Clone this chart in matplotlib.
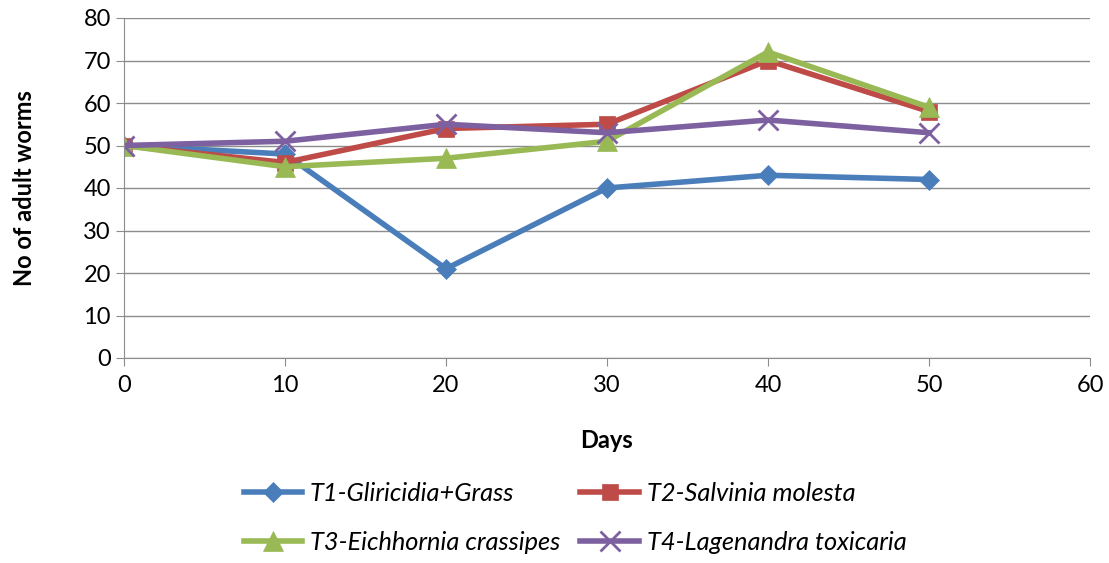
import matplotlib
matplotlib.use("Agg")
import matplotlib.pyplot as plt

days = [0, 10, 20, 30, 40, 50]
t1 = [50, 48, 21, 40, 43, 42]
t2 = [50, 46, 54, 55, 70, 58]
t3 = [50, 45, 47, 51, 72, 59]
t4 = [50, 51, 55, 53, 56, 53]
labels = ["T1-Gliricidia+Grass", "T2-Salvinia molesta",
          "T3-Eichhornia crassipes", "T4-Lagenandra toxicaria"]
colors = ["#4A7EBB", "#BE4B48", "#98B954", "#7D60A0"]
markers = ["D", "s", "^", "x"]
msizes = [10, 12, 14, 14]

plt.rcParams['font.family'] = ['Lato', 'DejaVu Sans']

fig = plt.figure(figsize=(11.09, 5.63), dpi=100)
ax = fig.add_axes([124/1109, 1-358/563, (1090-124)/1109, (358-18)/563])

handles = []
for ys, lab, c, m, ms in zip([t1, t2, t3, t4], labels, colors, markers, msizes):
    h, = ax.plot(days, ys, color=c, lw=4, marker=m, markersize=ms, label=lab,
                 markeredgewidth=2 if m == "x" else 0.5, markeredgecolor=c)
    handles.append(h)

ax.set_xlim(0, 60)
ax.set_ylim(0, 80)
ax.set_xticks(range(0, 61, 10))
ax.set_yticks(range(0, 81, 10))
ax.grid(axis='y', color='#8c8c8c', lw=1)
ax.set_axisbelow(True)
for s in ['top', 'right']:
    ax.spines[s].set_visible(False)
for s in ['left', 'bottom']:
    ax.spines[s].set_color('#8c8c8c')
ax.tick_params(axis='both', colors='#8c8c8c', labelcolor='black', labelsize=17, length=6)
ax.tick_params(axis='x', pad=6)
ax.set_xlabel("Days", fontsize=17, fontweight='bold', labelpad=24)
ax.set_ylabel("No of adult worms", fontsize=17, fontweight='bold', labelpad=34)

order = [0, 2, 1, 3]
leg = fig.legend([handles[i] for i in order], [labels[i] for i in order],
                 loc='center', bbox_to_anchor=(575/1109, 1-518/563), ncol=2,
                 frameon=False, prop={'style': 'italic', 'size': 18.3},
                 handlelength=2.3, columnspacing=0.8, handletextpad=0.3, labelspacing=1.05)
fig.savefig("out.png", dpi=100, facecolor='white')
